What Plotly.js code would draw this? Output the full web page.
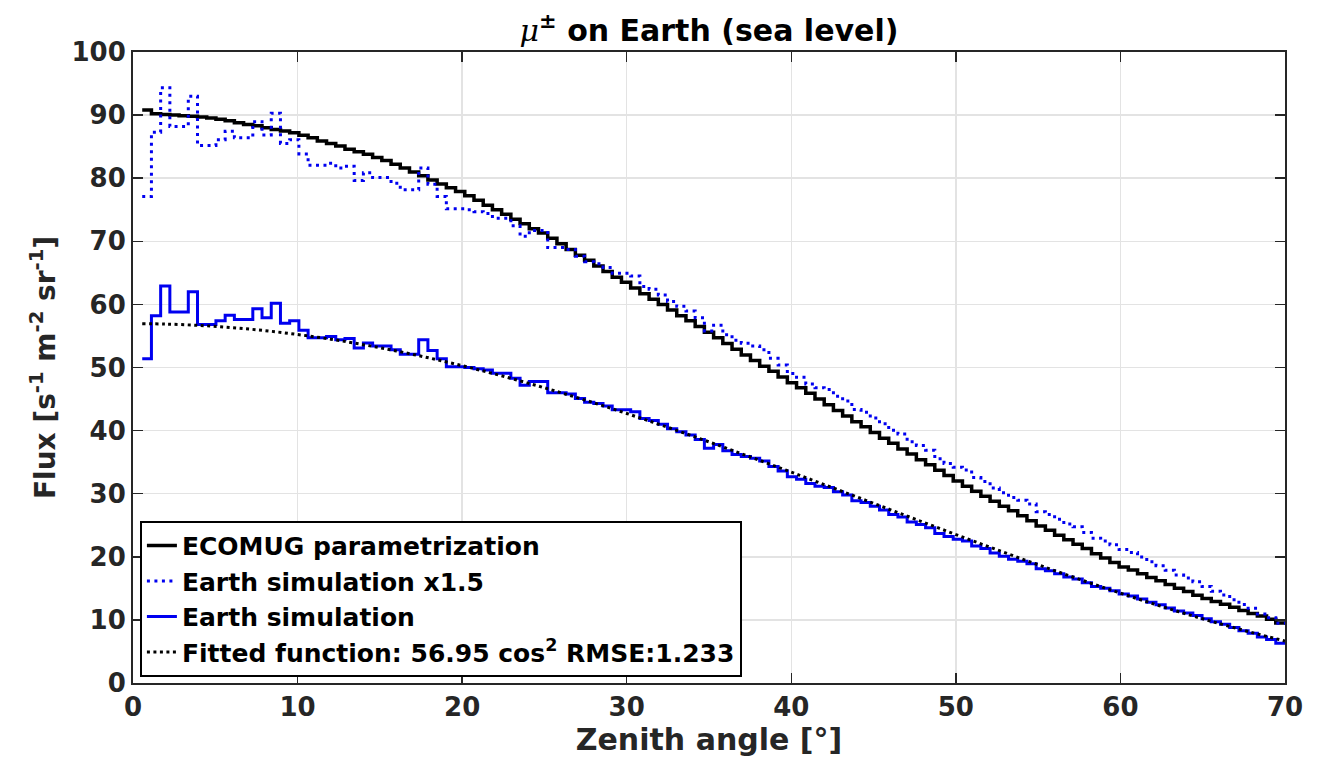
<!DOCTYPE html>
<html>
<head>
<meta charset="utf-8">
<script src="https://cdn.plot.ly/plotly-3.0.1.min.js"></script>
<style>
  html, body { margin: 0; padding: 0; background: #ffffff; }
  #chart { width: 1333px; height: 761px; }
</style>
</head>
<body>
<div id="chart"></div>
<script>
// ---- Data ----
// Histogram binning (zenith angle, degrees)
const BIN_FIRST_EDGE = 0.56;
const BIN_WIDTH = 0.56;
const X_MAX = 70;

// ECOMUG parametrization, one value per bin
const ECOMUG = [
  90.8, 90.2, 90.1, 90.0, 89.9, 89.8, 89.7, 89.55, 89.35, 89.1,
  88.8, 88.5, 88.3, 88.0, 87.7, 87.5, 87.2, 86.8, 86.4, 85.9,
  85.5, 85.1, 84.6, 84.2, 83.8, 83.3, 82.8, 82.2, 81.6, 81.0,
  80.4, 79.7, 79.1, 78.5, 77.9, 77.2, 76.5, 75.7, 75.0, 74.3,
  73.5, 72.8, 72.0, 71.3, 70.5, 69.6, 68.7, 67.8, 67.0, 66.1,
  65.2, 64.3, 63.5, 62.6, 61.7, 60.8, 60.0, 59.1, 58.2, 57.4,
  56.5, 55.6, 54.7, 53.8, 52.9, 52.0, 51.1, 50.2, 49.4, 48.5,
  47.6, 46.8, 45.9, 45.0, 44.1, 43.2, 42.3, 41.4, 40.6, 39.7,
  38.8, 38.0, 37.1, 36.3, 35.4, 34.6, 33.7, 32.9, 32.0, 31.2,
  30.4, 29.6, 28.8, 28.0, 27.3, 26.5, 25.7, 24.9, 24.2, 23.4,
  22.7, 22.0, 21.3, 20.5, 19.8, 19.1, 18.4, 17.9, 17.3, 16.7,
  16.2, 15.6, 15.0, 14.5, 13.9, 13.4, 12.9, 12.5, 12.0, 11.5,
  11.0, 10.6, 10.1, 9.5
];

// Earth simulation, one value per bin
const EARTH_SIM = [
  51.4, 58.2, 62.9, 58.8, 58.8, 62.0, 56.8, 56.8, 57.4, 58.3,
  57.6, 57.6, 59.3, 57.9, 60.2, 57.0, 57.4, 55.9, 54.7, 54.7,
  54.9, 54.4, 54.6, 53.1, 53.9, 53.4, 53.4, 52.8, 52.1, 52.1,
  54.4, 52.7, 51.4, 50.1, 50.1, 50.0, 49.8, 49.6, 49.1, 49.1,
  48.3, 47.2, 47.8, 47.8, 46.0, 46.0, 45.8, 45.1, 44.5, 44.3,
  43.9, 43.3, 43.3, 43.0, 41.9, 41.6, 41.0, 40.3, 39.8, 39.3,
  38.6, 37.2, 37.8, 36.8, 36.2, 35.9, 35.6, 35.2, 34.3, 33.6,
  32.7, 32.3, 31.6, 31.2, 31.0, 30.3, 29.8, 28.9, 28.6, 28.0,
  27.4, 26.7, 26.3, 25.5, 25.1, 24.6, 23.7, 23.2, 22.8, 22.5,
  21.7, 21.3, 20.6, 20.1, 19.6, 19.3, 18.9, 18.1, 17.8, 17.3,
  16.8, 16.5, 15.9, 15.3, 15.0, 14.6, 14.1, 13.8, 13.3, 12.8,
  12.4, 11.9, 11.4, 11.1, 10.7, 10.2, 9.7, 9.3, 8.8, 8.3,
  7.9, 7.3, 6.9, 6.3
];

// Scale factor of the scaled simulation curve (legend: "x1.5")
const SIM_SCALE = 1.5;

// Fitted function 56.95 cos^2
const FIT_ANGLE = [0.56, 2, 4, 6, 8, 10, 12, 14, 16, 18, 20, 22, 24, 26, 28, 30, 32, 34, 36,
                   38, 40, 42, 44, 46, 48, 50, 52, 54, 56, 58, 60, 62, 64, 66, 68, 70];
const FIT_FLUX = [56.94, 56.88, 56.67, 56.33, 55.85, 55.23, 54.49, 53.62, 52.62, 51.51,
                  50.29, 48.96, 47.53, 46.01, 44.40, 42.71, 40.96, 39.14, 37.27, 35.36,
                  33.42, 31.45, 29.47, 27.48, 25.50, 23.53, 21.59, 19.68, 17.81, 15.99,
                  14.24, 12.55, 10.94, 9.42, 7.99, 6.66];

const X_TICKS = [0, 10, 20, 30, 40, 50, 60, 70];
const Y_TICKS = [0, 10, 20, 30, 40, 50, 60, 70, 80, 90, 100];

const LABELS = {
  ecomug: 'ECOMUG parametrization',
  scaled: 'Earth simulation x1.5',
  sim: 'Earth simulation',
  fit: 'Fitted function: 56.95 cos<sup>2</sup> RMSE:1.233'
};

// ---- Build step traces ----
function stepXY(values) {
  const x = values.map((_, i) => +(BIN_FIRST_EDGE + i * BIN_WIDTH).toFixed(4));
  x.push(X_MAX);
  const y = values.slice();
  y.push(values[values.length - 1]);
  return { x, y };
}

const ecomugXY = stepXY(ECOMUG);
const simXY = stepXY(EARTH_SIM);
const scaledXY = stepXY(EARTH_SIM.map(v => v * SIM_SCALE));

const BLUE = '#0000f0';
const DARK = '#262626';
const FONT = 'DejaVu Sans, Verdana, sans-serif';

const traces = [
  { x: ecomugXY.x, y: ecomugXY.y, type: 'scatter', mode: 'lines', name: LABELS.ecomug,
    line: { shape: 'hv', color: '#000000', width: 3.5 } },
  { x: scaledXY.x, y: scaledXY.y, type: 'scatter', mode: 'lines', name: LABELS.scaled,
    line: { shape: 'hv', color: BLUE, width: 3, dash: '3px,4.5px' } },
  { x: simXY.x, y: simXY.y, type: 'scatter', mode: 'lines', name: LABELS.sim,
    line: { shape: 'hv', color: BLUE, width: 3 } },
  { x: FIT_ANGLE, y: FIT_FLUX, type: 'scatter', mode: 'lines', name: LABELS.fit,
    line: { shape: 'spline', color: '#000000', width: 3, dash: '3px,3.5px' } }
];

const axisCommon = {
  showline: true, linecolor: DARK, linewidth: 2, mirror: 'ticks',
  ticks: 'inside', ticklen: 10, tickwidth: 1.5, tickcolor: DARK,
  showgrid: true, gridcolor: '#e3e3e3', gridwidth: 1.5,
  zeroline: false,
  tickfont: { family: FONT, size: 26, color: DARK, weight: 'bold' }
};

const layout = {
  width: 1333, height: 761,
  paper_bgcolor: '#ffffff', plot_bgcolor: '#ffffff',
  margin: { l: 133, r: 48, t: 52, b: 78 },
  showlegend: true,
  title: {
    text: '<span style="font-weight:normal;font-family:\'DejaVu Serif\'"><i>μ</i></span><sup>±</sup> on Earth (sea level)',
    font: { family: FONT, size: 30, color: '#000000', weight: 'bold' },
    x: 0.5, xref: 'paper', xanchor: 'center', y: 0.96, yanchor: 'middle'
  },
  xaxis: Object.assign({}, axisCommon, {
    range: [0, X_MAX], tickvals: X_TICKS, ticktext: X_TICKS.map(String),
    title: { text: 'Zenith angle [°]', font: { family: FONT, size: 30, color: DARK, weight: 'bold' }, standoff: 6 }
  }),
  yaxis: Object.assign({}, axisCommon, {
    range: [0, 100], tickvals: Y_TICKS, ticktext: Y_TICKS.map(String),
    title: { text: 'Flux [s<sup>-1</sup> m<sup>-2</sup> sr<sup>-1</sup>]', font: { family: FONT, size: 28, color: DARK, weight: 'bold' }, standoff: 8 }
  }),
  legend: {
    x: 0.006, y: 0.01, xanchor: 'left', yanchor: 'bottom',
    bgcolor: '#ffffff', bordercolor: '#000000', borderwidth: 2,
    font: { family: FONT, size: 25, color: '#000000', weight: 'bold' },
    tracegroupgap: 0, itemwidth: 30
  }
};

Plotly.newPlot('chart', traces, layout, { staticPlot: true, displayModeBar: false });
</script>
</body>
</html>
